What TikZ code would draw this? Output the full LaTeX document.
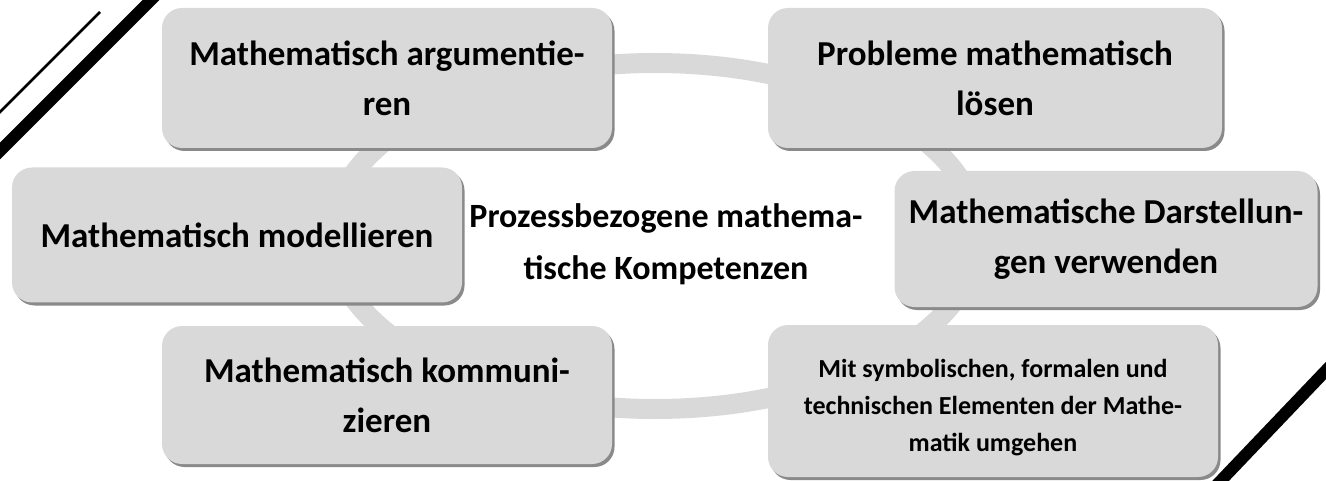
\documentclass[tikz,border=0pt]{standalone}
\usepackage{fontspec}
\setmainfont{Carlito}
\usetikzlibrary{shadows}
\definecolor{kasten}{HTML}{D9D9D9}
\definecolor{schatten}{HTML}{8A8A8A}

\begin{document}
\begin{tikzpicture}[x=1pt,y=-1pt,
    box/.style={rectangle,rounded corners=20pt,fill=kasten,align=center,
      general shadow={fill=schatten,shadow xshift=2.5pt,shadow yshift=-3pt},
      font=\fontsize{35}{50}\selectfont\bfseries,inner sep=0pt},
    ring/.style={draw=kasten,line width=20pt}]
      \useasboundingbox (0,0) rectangle (1326,481);
      \draw[ring] (655,236) ellipse [x radius=323,y radius=173];

      \draw[line width=2.5pt] (-5,117) -- (100,12);
      \draw[line width=12pt] (-10,161) -- (166,-15);
      \draw[line width=12pt] (1211,491) -- (1336,360);

      \node[box,minimum width=450pt,minimum height=140pt] (arg) at (387,78) {Mathematisch argumentie-\\ren};
      \node[box,minimum width=454pt,minimum height=140pt] (prob) at (995,78) {Probleme mathematisch\\lösen};
      \node[box,minimum width=450pt,minimum height=135pt] (mod) at (237,235) {Mathematisch modellieren};
      \node[box,minimum width=423pt,minimum height=136pt] (dar) at (1106,239) {Mathematische Darstellun-\\gen verwenden};
      \node[box,minimum width=450pt,minimum height=138pt] (kom) at (387,395) {Mathematisch kommuni-\\zieren};
      \node[box,minimum width=450pt,minimum height=152pt,font=\fontsize{26}{37}\selectfont\bfseries] (sym) at (993,401) {\rule{0pt}{32pt}Mit symbolischen, formalen und\\technischen Elementen der Mathe-\\matik umgehen};
      \node[align=center,font=\fontsize{34}{52}\selectfont\bfseries] (mitte) at (666,244) {Prozessbezogene mathema-\\tische Kompetenzen};
    \end{tikzpicture}
\end{document}
